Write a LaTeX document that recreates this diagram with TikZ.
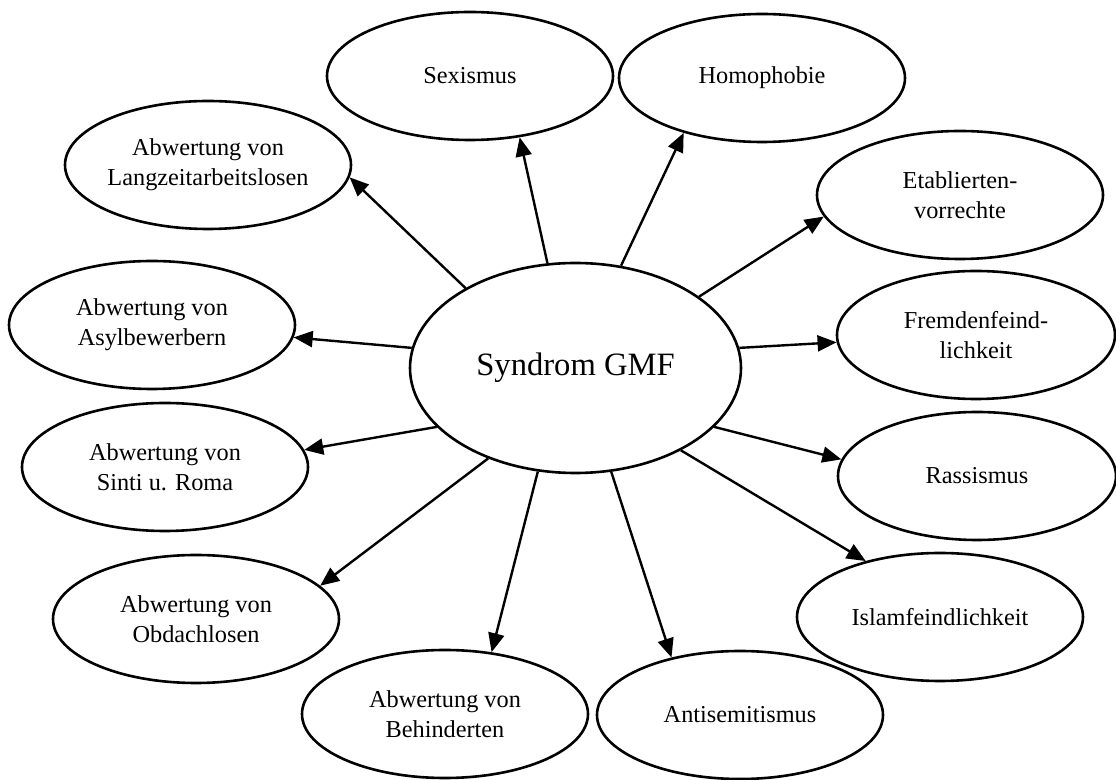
\documentclass[tikz,border=0pt]{standalone}
\usepackage{fontspec}
\setmainfont{Liberation Serif}
\usetikzlibrary{arrows.meta,shapes.geometric}

\begin{document}
\begin{tikzpicture}[x=0.5pt,y=-0.5pt,
  topic/.style={ellipse,draw,line width=1.3pt,minimum width=143pt,minimum height=64pt,
    inner sep=0pt,align=center,font=\fontsize{12.15}{15}\selectfont},
  link/.style={line width=1.2pt,-{Triangle[length=9.5pt,width=8pt]}}]
  \useasboundingbox (0,0) rectangle (1116,780);
  % centre
  \node[ellipse,draw,line width=1.3pt,minimum width=165.5pt,minimum height=105pt,
    inner sep=0pt,font=\fontsize{16.3}{20}\selectfont] (gmf) at (575.5,368) {Syndrom GMF};
  % surrounding elements
  \node[topic] (sex)    at (470,76)  {Sexismus};
  \node[topic] (homo)   at (762,78)  {Homophobie};
  \node[topic] (lang)   at (208,165) {Abwertung von\\Langzeitarbeitslosen};
  \node[topic] (etab)   at (960,195) {Etablierten-\\vorrechte};
  \node[topic] (asyl)   at (152,325) {Abwertung von\\Asylbewerbern};
  \node[topic,minimum width=139pt] (fremd) at (976,335) {Fremdenfeind-\\lichkeit};
  \node[topic] (sinti)  at (165,467) {Abwertung von\\Sinti u. Roma};
  \node[topic,minimum width=139pt] (rass) at (977,476) {Rassismus};
  \node[topic] (obdach) at (196,619) {Abwertung von\\Obdachlosen};
  \node[topic] (islam)  at (940,617) {Islamfeindlichkeit};
  \node[topic] (behin)  at (445,714) {Abwertung von\\Behinderten};
  \node[topic] (anti)   at (740,715) {Antisemitismus};
  % arrows: target / angle on centre / angle on target
  \foreach \t/\a/\b in {lang/144/-5,sex/105/-51,homo/66/-145,etab/30/189,
      fremd/7/183,rass/-23/173,islam/-38/143,anti/-71/140,behin/-110/53,
      obdach/-134/15,sinti/-157/7,asyl/173/-5}
    {\draw[link] (gmf.\a) -- (\t.\b);}
\end{tikzpicture}
\end{document}
